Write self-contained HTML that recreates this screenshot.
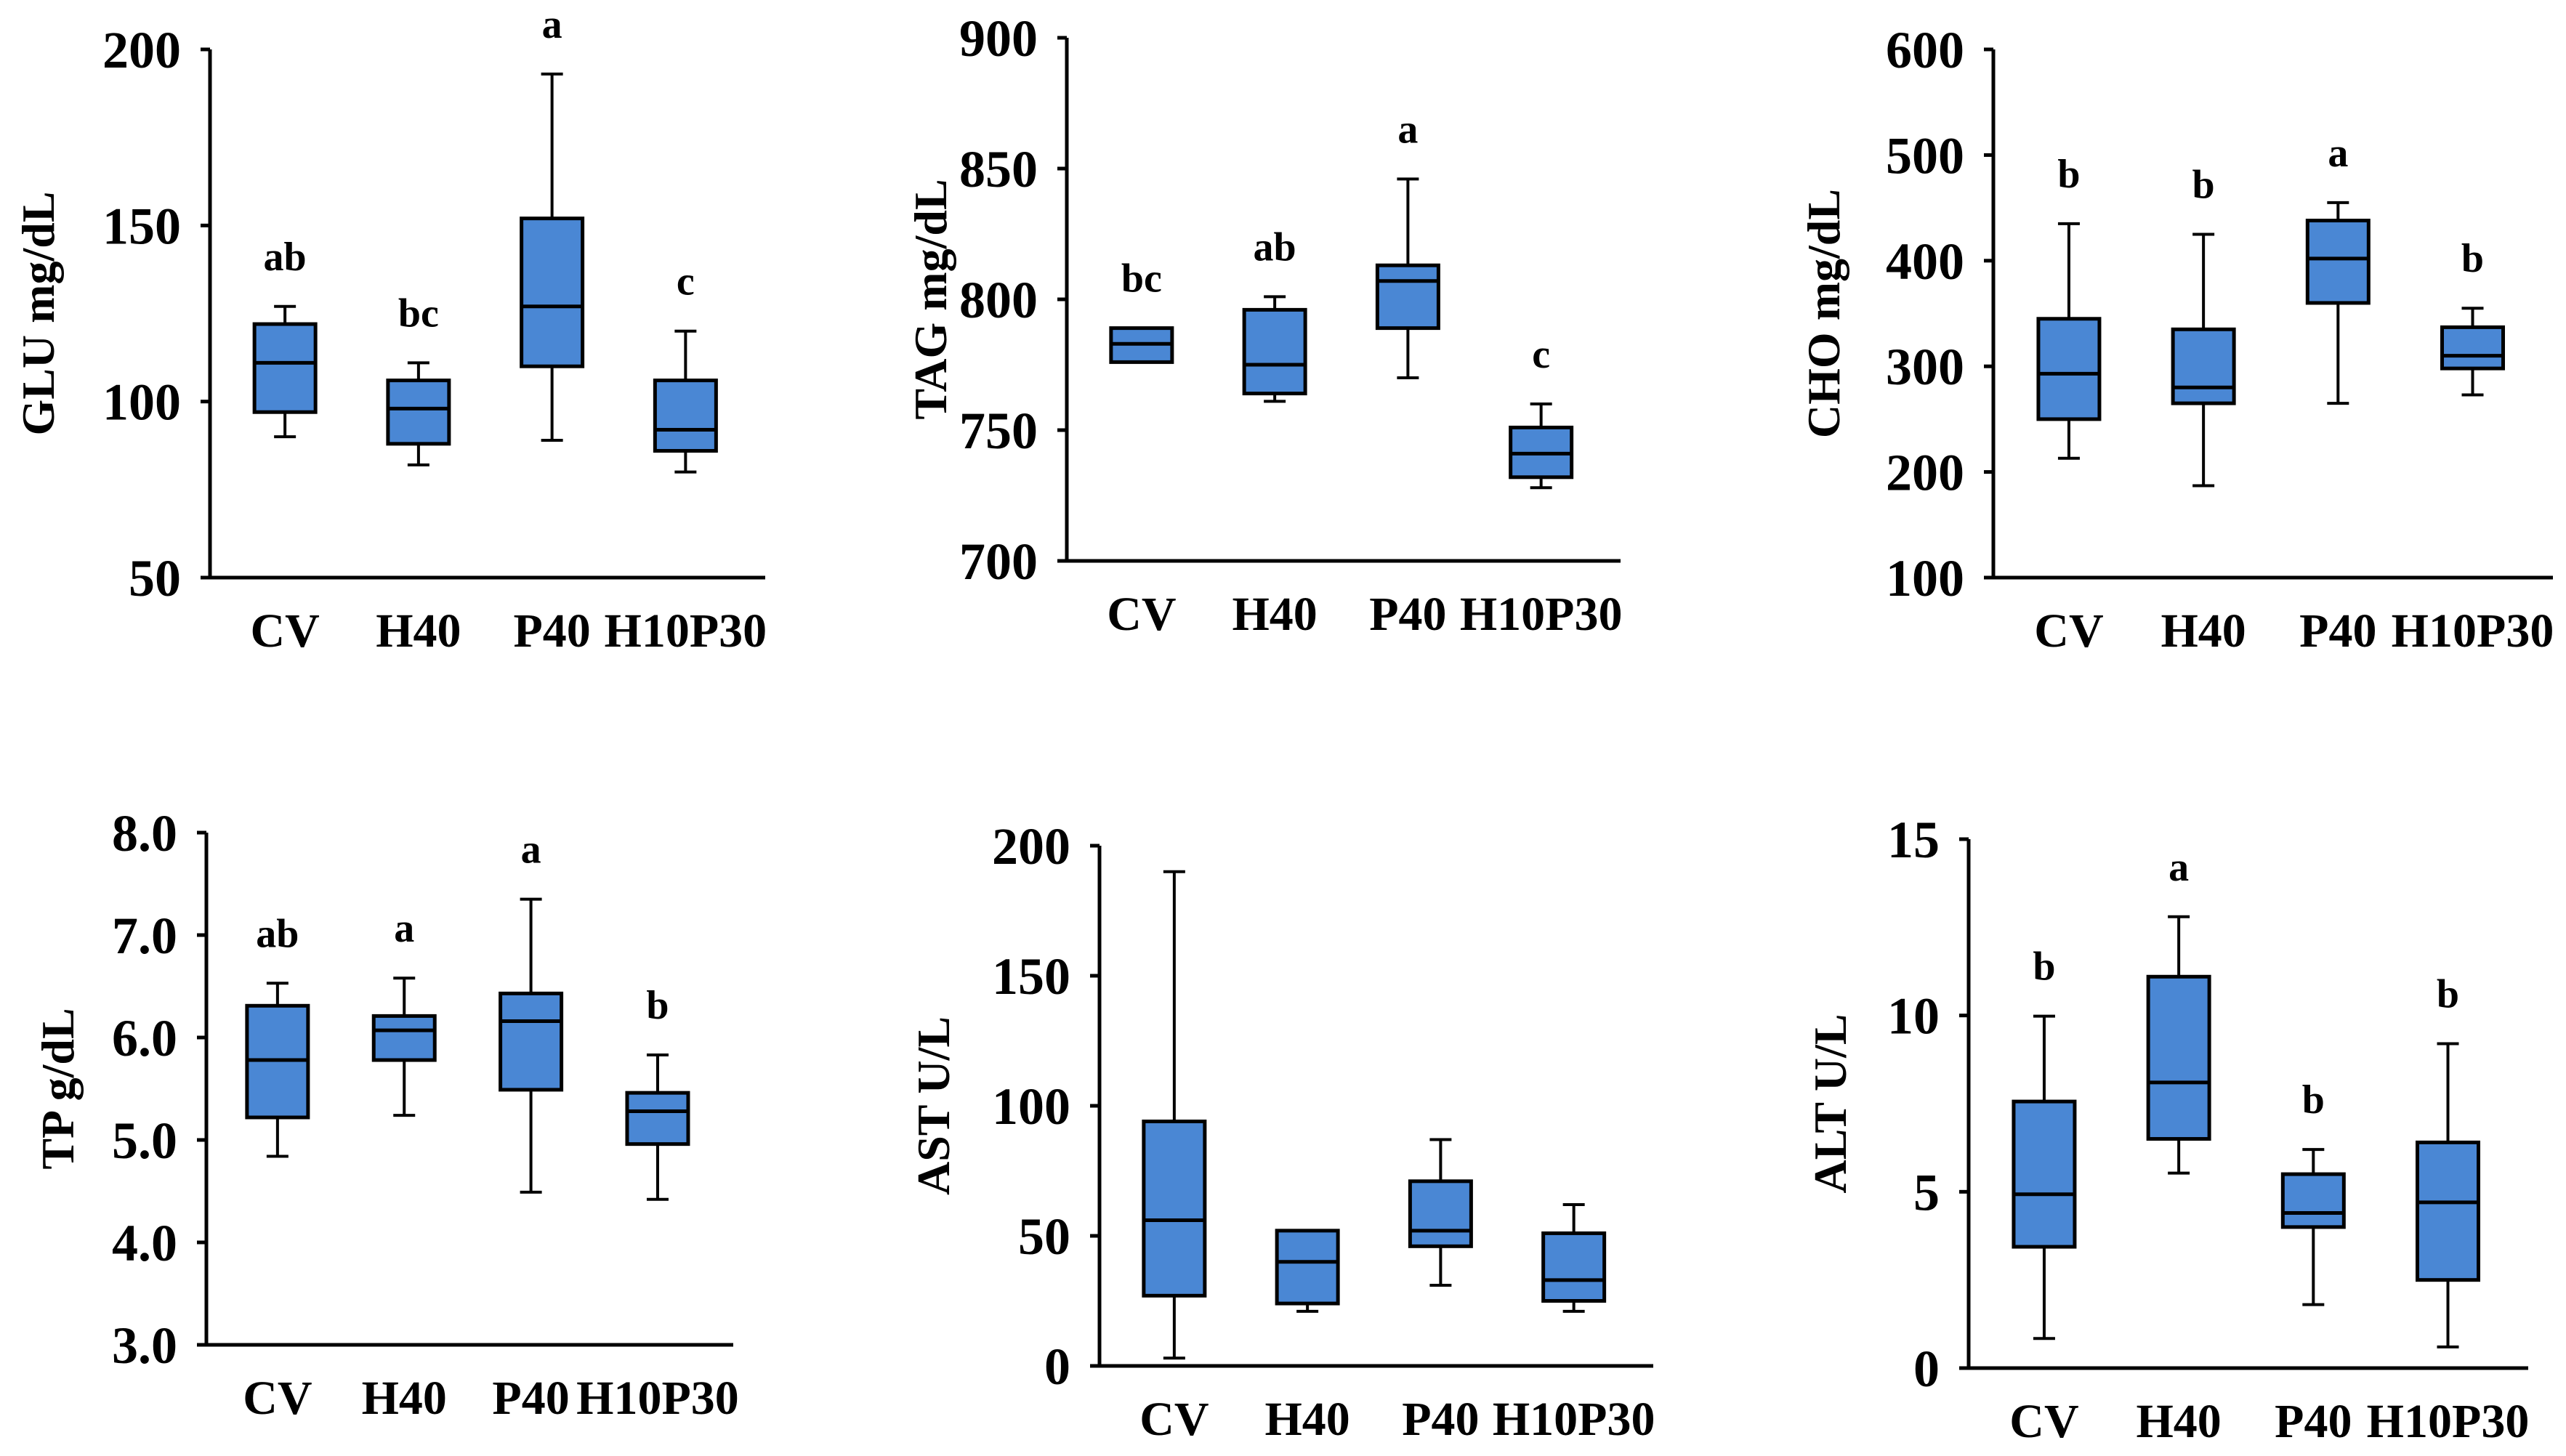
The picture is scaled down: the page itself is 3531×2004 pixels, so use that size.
<!DOCTYPE html>
<html><head><meta charset="utf-8">
<style>
html,body{margin:0;padding:0;background:#fff;}
svg{display:block;}
text{font-family:"Liberation Serif",serif;font-weight:bold;fill:#000;}
</style></head>
<body>
<svg id="fig" width="3531" height="2004" viewBox="0 0 3531 2004" xmlns="http://www.w3.org/2000/svg"></svg>
<script>
const categories = ["CV","H40","P40","H10P30"];
// [min, q1, median, q3, max] per category
const gluValues = [[90,97,111,122,127],[82,88,98,106,111],[89,110,127,152,193],[80,86,92,106,120]];
const gluLetters = ["ab","bc","a","c"];
const gluTicks = ["50","100","150","200"];
const tagValues = [[776,776,783,789,789],[761,764,775,796,801],[770,789,807,813,846],[728,732,741,751,760]];
const tagLetters = ["bc","ab","a","c"];
const tagTicks = ["700","750","800","850","900"];
const choValues = [[213,250,293,345,435],[187,265,280,335,425],[265,360,402,438,455],[273,298,310,337,355]];
const choLetters = ["b","b","a","b"];
const choTicks = ["100","200","300","400","500","600"];
const tpValues = [[4.84,5.22,5.78,6.31,6.53],[5.24,5.78,6.07,6.21,6.58],[4.49,5.49,6.16,6.43,7.35],[4.42,4.96,5.28,5.46,5.83]];
const tpLetters = ["ab","a","a","b"];
const tpTicks = ["3.0","4.0","5.0","6.0","7.0","8.0"];
const astValues = [[3,27,56,94,190],[21,24,40,52,52],[31,46,52,71,87],[21,25,33,51,62]];
const astLetters = ["","","",""];
const astTicks = ["0","50","100","150","200"];
const altValues = [[0.84,3.44,4.93,7.56,9.98],[5.53,6.5,8.1,11.1,12.8],[1.8,4.0,4.4,5.5,6.2],[0.6,2.5,4.7,6.4,9.2]];
const altLetters = ["b","a","b","b"];
const altTicks = ["0","5","10","15"];

const NS="http://www.w3.org/2000/svg";
const svg=document.getElementById('fig');
function mk(tag,attrs,parent){const e=document.createElementNS(NS,tag);for(const k in attrs)e.setAttribute(k,attrs[k]);parent.appendChild(e);return e;}

const panels=[
 {id:"glu",title:"GLU mg/dL",vals:gluValues,letters:gluLetters,ticks:gluTicks,ax:289,top:68,bot:795,end:1053,tx:52},
 {id:"tag",title:"TAG mg/dL",vals:tagValues,letters:tagLetters,ticks:tagTicks,ax:1468,top:52,bot:772,end:2230,tx:1280},
 {id:"cho",title:"CHO mg/dL",vals:choValues,letters:choLetters,ticks:choTicks,ax:2743,top:68,bot:795,end:3513,tx:2509},
 {id:"tp",title:"TP g/dL",vals:tpValues,letters:tpLetters,ticks:tpTicks,ax:284,top:1146,bot:1851,end:1009,tx:79},
 {id:"ast",title:"AST U/L",vals:astValues,letters:astLetters,ticks:astTicks,ax:1513,top:1164,bot:1880,end:2275,tx:1284},
 {id:"alt",title:"ALT U/L",vals:altValues,letters:altLetters,ticks:altTicks,ax:2709,top:1155,bot:1883,end:3479,tx:2518}
];

panels.forEach(p=>{
 const g=mk('g',{},svg);
 
 
 const tmin=parseFloat(p.ticks[0]), tmax=parseFloat(p.ticks[p.ticks.length-1]);
 const y=v=>p.bot-(v-tmin)/(tmax-tmin)*(p.bot-p.top);
 const span=p.end-p.ax;
 const x=i=>p.ax+span*(0.135+i*0.2405);
 const yAxis=mk('line',{x1:p.ax,y1:p.top,x2:p.ax,y2:p.bot,stroke:'#000','stroke-width':5},g);
 
 
 const xAxis=mk('line',{x1:p.ax-2,y1:p.bot,x2:p.end,y2:p.bot,stroke:'#000','stroke-width':5},g);
 
 
 p.ticks.forEach(t=>{
  const v=parseFloat(t);
  mk('line',{x1:p.ax-13,y1:y(v),x2:p.ax,y2:y(v),stroke:'#000','stroke-width':5},g);
  const tl=mk('text',{x:p.ax-40,y:y(v)+25,'text-anchor':'end','font-size':72},g);
  tl.textContent=t;
  
  
 });
 const cy=(p.top+p.bot)/2;
 const tt=mk('text',{x:p.tx,y:cy,'text-anchor':'middle','font-size':64,transform:`rotate(-90 ${p.tx} ${cy})`,dy:22},g);
 tt.textContent=p.title;
 
 
 categories.forEach((c,i)=>{
  const cl=mk('text',{x:x(i),y:p.bot+95,'text-anchor':'middle','font-size':66},g);
  cl.textContent=c;
  
  
  const [mn,q1,md,q3,mx]=p.vals[i];
  const bg=mk('g',{},g);
  
  
  const cx=x(i), bw=84, cw=30;
  mk('line',{x1:cx,y1:y(mx),x2:cx,y2:y(q3),stroke:'#000','stroke-width':4},bg);
  mk('line',{x1:cx,y1:y(q1),x2:cx,y2:y(mn),stroke:'#000','stroke-width':4},bg);
  mk('line',{x1:cx-cw/2,y1:y(mx),x2:cx+cw/2,y2:y(mx),stroke:'#000','stroke-width':4},bg);
  mk('line',{x1:cx-cw/2,y1:y(mn),x2:cx+cw/2,y2:y(mn),stroke:'#000','stroke-width':4},bg);
  mk('rect',{x:cx-bw/2,y:y(q3),width:bw,height:Math.max(1,y(q1)-y(q3)),fill:'#4a87d4',stroke:'#000','stroke-width':5},bg);
  mk('line',{x1:cx-bw/2,y1:y(md),x2:cx+bw/2,y2:y(md),stroke:'#000','stroke-width':5},bg);
  if(p.letters[i]){
   const lt=mk('text',{x:cx,y:y(mx)-50,'text-anchor':'middle','font-size':56},g);
   lt.textContent=p.letters[i];
   
   
  }
 });
});
</script>
</body></html>
